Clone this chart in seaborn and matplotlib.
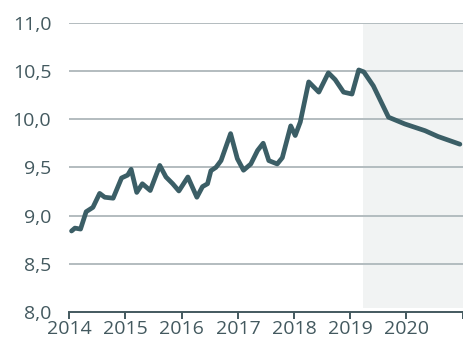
import matplotlib
matplotlib.use("Agg")
import matplotlib.pyplot as plt
import matplotlib.ticker as mticker
import seaborn as sns
import pandas as pd

# Time axis in decimal years and the corresponding index values
years = [2014.04, 2014.10, 2014.20, 2014.30, 2014.42, 2014.54, 2014.63, 2014.78,
         2014.93, 2015.04, 2015.10, 2015.20, 2015.30, 2015.44, 2015.61, 2015.72,
         2015.84, 2015.95, 2016.11, 2016.27, 2016.37, 2016.46, 2016.52, 2016.61,
         2016.70, 2016.87, 2016.99, 2017.10, 2017.23, 2017.35, 2017.45, 2017.55,
         2017.70, 2017.79, 2017.94, 2018.02, 2018.11, 2018.26, 2018.44, 2018.61,
         2018.73, 2018.88, 2019.03, 2019.15, 2019.24, 2019.41, 2019.68, 2019.97,
         2020.33, 2020.56, 2020.95]
values = [8.84, 8.87, 8.86, 9.04, 9.085, 9.23, 9.19, 9.18,
          9.39, 9.42, 9.48, 9.24, 9.33, 9.26, 9.52, 9.40,
          9.33, 9.255, 9.40, 9.19, 9.30, 9.33, 9.465, 9.50,
          9.57, 9.85, 9.59, 9.47, 9.535, 9.675, 9.75, 9.57,
          9.535, 9.60, 9.93, 9.83, 9.97, 10.386, 10.28, 10.48,
          10.41, 10.28, 10.26, 10.51, 10.49, 10.345, 10.02, 9.95,
          9.88, 9.82, 9.74]

forecast_start = 2019.22
x_ticks = [2014, 2015, 2016, 2017, 2018, 2019, 2020, 2021]
x_labels = ["2014", "2015", "2016", "2017", "2018", "2019", "2020", ""]
y_ticks = [8.0, 8.5, 9.0, 9.5, 10.0, 10.5, 11.0]

df = pd.DataFrame({"year": years, "value": values})

sns.set_theme(style="white")
plt.rcParams["font.family"] = ["Open Sans", "DejaVu Sans"]

text_color = "#43595f"
line_color = "#3b5e66"
grid_color = "#b3bcbf"

fig = plt.figure(figsize=(4.63, 3.47), dpi=100)
ax = fig.add_axes([69.3 / 463, 35 / 347, (462.7 - 69.3) / 463, 289.3 / 347])

# forecast period shading
ax.axvspan(forecast_start, 2021, ymin=0.013, ymax=1.0, color="#f1f3f3", lw=0, zorder=0)

for yv in y_ticks[1:]:
    ax.axhline(yv, color=grid_color, lw=1.4, zorder=1)

sns.lineplot(data=df, x="year", y="value", ax=ax, color=line_color, lw=3.4,
             solid_joinstyle="round", solid_capstyle="round", zorder=3)

ax.set_xlim(2014, 2021)
ax.set_ylim(8.0, 11.0)
ax.set_xticks(x_ticks)
ax.set_xticklabels(x_labels)
ax.set_yticks(y_ticks)
ax.yaxis.set_major_formatter(mticker.FuncFormatter(lambda v, p: f"{v:.1f}".replace(".", ",")))
ax.set_xlabel("")
ax.set_ylabel("")

for side in ["top", "right", "left"]:
    ax.spines[side].set_visible(False)
ax.spines["bottom"].set_color(text_color)
ax.spines["bottom"].set_linewidth(1.4)

ax.tick_params(axis="x", direction="out", length=5, width=1.4, color=text_color,
               labelsize=14, labelcolor=text_color, pad=1, bottom=True)
ax.tick_params(axis="y", length=0, labelsize=14, labelcolor=text_color, pad=13)

fig.savefig("out.png", dpi=100)
